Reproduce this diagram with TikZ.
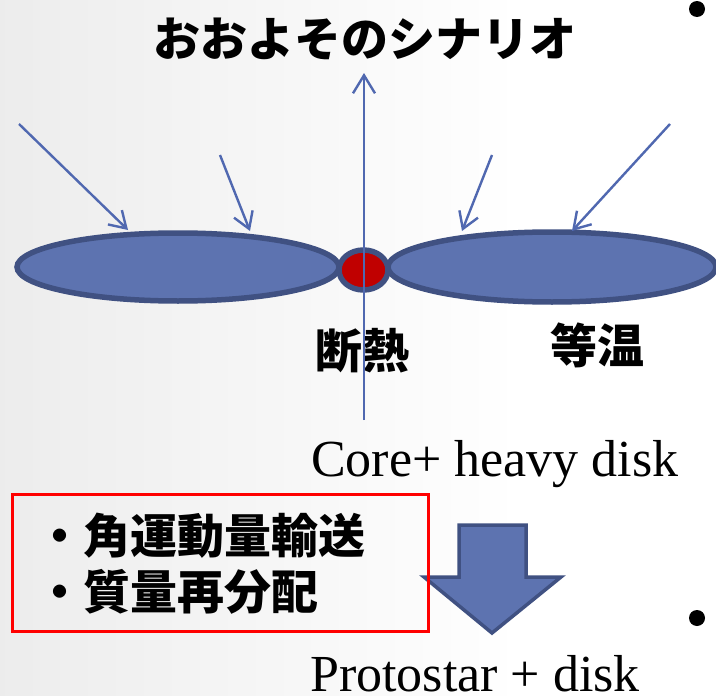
\documentclass[tikz,border=0pt]{standalone}
\usepackage{fontspec}
\setmainfont{Liberation Serif}
\newfontfamily\jp{Noto Sans CJK JP}
\usetikzlibrary{arrows.meta,shapes.geometric}
\definecolor{diskfill}{RGB}{93,115,176}
\definecolor{diskedge}{RGB}{64,81,130}
\definecolor{arrowblue}{RGB}{80,104,176}
\definecolor{coreRed}{RGB}{192,0,0}
\tikzset{
  disk/.style={ellipse, draw=diskedge, fill=diskfill, line width=5.5pt, inner sep=0pt},
  infall/.style={draw=arrowblue, line width=2.4pt, -{Straight Barb[length=16pt,width=20pt,line width=2.4pt]}},
  jptext/.style={font=\jp\bfseries\fontsize{47}{47}\selectfont, inner sep=0pt},
  entext/.style={font=\fontsize{52}{52}\selectfont, inner sep=0pt, anchor=base west},
  dot/.style={circle, fill=black, minimum size=16pt, inner sep=0pt}
}
\begin{document}
\begin{tikzpicture}[x=1pt,y=-1pt]
\useasboundingbox (0,0) rectangle (716,696);
\fill[white] (0,0) rectangle (716,696);
\shade[left color=black!9, right color=white] (-120,0) rectangle (520,696);

% title
\node[jptext] (title) at (365,39) {おおよそのシナリオ};

% right-edge bullets
\node[dot] (b1) at (697,9) {};
\node[dot] (b2) at (697,618) {};

% disks
\node[disk, minimum width=322pt, minimum height=68pt] (ldisk) at (178,267) {};
\node[disk, minimum width=328pt, minimum height=70pt] (rdisk) at (552,267) {};
\node[ellipse, draw=diskedge, fill=coreRed, line width=5.5pt, inner sep=0pt,
      minimum width=49pt, minimum height=40pt] (core) at (363.5,270) {};

% infall arrows
\coordinate (s1) at (19,124);  \coordinate (t1) at (128,230);
\coordinate (s2) at (220,155); \coordinate (t2) at (250,231);
\coordinate (s3) at (492,155); \coordinate (t3) at (462,231);
\coordinate (s4) at (670,124); \coordinate (t4) at (572,231);
\draw[infall] (s1) -- (t1);
\draw[infall] (s2) -- (t2);
\draw[infall] (s3) -- (t3);
\draw[infall] (s4) -- (t4);

% labels
\node[jptext] (adiab) at (362,351) {断熱};
\node[jptext] (iso) at (597,345) {等温};

% outflow axis
\coordinate (axbot) at (364,420);
\coordinate (axtop) at (364,73);
\draw[draw=arrowblue, line width=2.4pt, -{Straight Barb[length=18pt,width=22pt,line width=2.4pt]}] (axbot) -- (axtop);

\node[entext] (core+disk) at (311,476) {Core+ heavy disk};

% big down arrow
\draw[diskedge, fill=diskfill, line width=3.5pt, line join=miter]
  (459,525) -- (526,525) -- (526,577) -- (561,577) -- (492,633) -- (424,577) -- (459,577) -- cycle;

% red box with bullets
\node[draw=red, line width=3pt, minimum width=416pt, minimum height=137pt, inner sep=0pt] (box) at (220,562.5) {};
\node[jptext, anchor=west] (l1) at (36,536) {・角運動量輸送};
\node[jptext, anchor=west] (l2) at (36,592) {・質量再分配};

\node[entext] (proto) at (310,691) {Protostar + disk};
\end{tikzpicture}
\end{document}
